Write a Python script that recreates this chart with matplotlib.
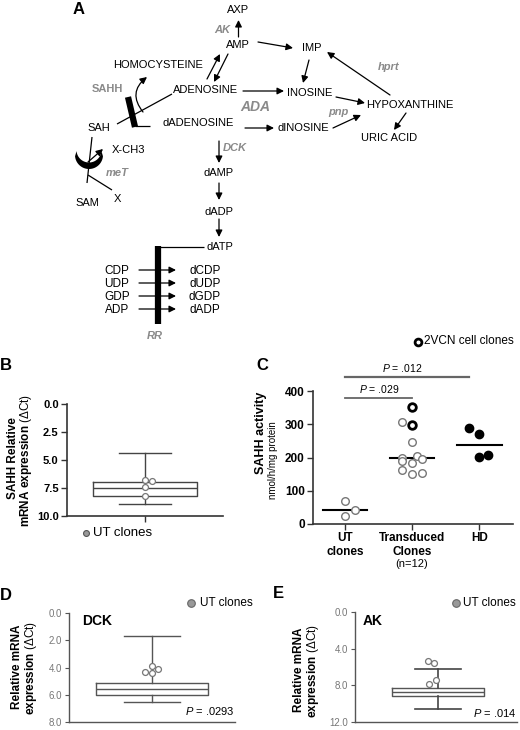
import numpy as np
import matplotlib
matplotlib.use("Agg")
import matplotlib.pyplot as plt
from matplotlib.patches import FancyArrowPatch, Polygon

plt.rcParams['font.family'] = ['Liberation Sans', 'DejaVu Sans']
plt.rcParams['mathtext.fontset'] = 'custom'
plt.rcParams['mathtext.rm'] = 'Liberation Sans'
plt.rcParams['mathtext.it'] = 'Liberation Sans:italic'
plt.rcParams['mathtext.bf'] = 'Liberation Sans:bold'

# ---------------- data ----------------
# Panel B: SAHH relative mRNA expression (dCt), UT clones
b_box = dict(whislo=4.35, q1=6.93, med=7.5, q3=8.17, whishi=8.9)
b_pts = [6.75, 6.9, 7.42, 8.25]
b_ticks = [0.0, 2.5, 5.0, 7.5, 10.0]

# Panel C: SAHH activity (nmol/h/mg protein)
c_groups = ['UT\nclones', 'Transduced\nClones', 'HD']
c_ut = [69, 43, 25]
c_td = [353, 308, 298, 248, 200, 206, 195, 190, 184, 162, 149, 154]
c_td_2vcn = [True, False, True, False, False, False, False, False, False, False, False, False]
c_hd = [289, 271, 201, 208]
c_medians = [42, 197, 239]
c_ticks = [0, 100, 200, 300, 400]
c_pvals = ['.029', '.012']

# Panel D: DCK
d_box = dict(whislo=1.69, q1=5.16, med=5.6, q3=6.0, whishi=6.5)
d_pts = [4.34, 3.86, 4.1, 4.39]
d_ticks = [0.0, 2.0, 4.0, 6.0, 8.0]

# Panel E: AK
e_box = dict(whislo=6.23, q1=8.29, med=8.78, q3=9.2, whishi=10.6)
e_pts = [5.35, 5.6, 7.8, 7.38]
e_ticks = [0.0, 4.0, 8.0, 12.0]

W, H = 520, 730
fig = plt.figure(figsize=(W / 100, H / 100), dpi=100)
fig.patch.set_facecolor('white')

def px_axes(left, top, right, bottom):
    return fig.add_axes([left / W, 1 - bottom / H, (right - left) / W, (bottom - top) / H])

# overlay for diagram / labels (pixel coordinates)
ov = fig.add_axes([0, 0, 1, 1], zorder=5)
ov.set_xlim(0, W)
ov.set_ylim(H, 0)
ov.axis('off')
ov.patch.set_alpha(0)

GRAY = '#8a8a8a'
FS = 8

def t(x, y, s, **kw):
    kw.setdefault('fontsize', FS)
    kw.setdefault('ha', 'center')
    kw.setdefault('va', 'center')
    ov.text(x, y, s, **kw)

def arr(x1, y1, x2, y2, lw=0.9):
    ov.add_patch(FancyArrowPatch((x1, y1), (x2, y2), arrowstyle='-|>,head_length=4,head_width=2',
                                 mutation_scale=1, lw=lw, color='black', shrinkA=0, shrinkB=0))

def ln(xs, ys, lw=0.9, color='black'):
    ov.plot(xs, ys, color=color, lw=lw, solid_capstyle='butt')

# ---------------- Panel A diagram ----------------
t(73, 10, 'A', fontsize=12, fontweight='bold', ha='left')
t(238, 10, 'AXP')
t(222, 30, 'AK', color=GRAY, fontweight='bold', style='italic')
arr(238.5, 37, 238.5, 20)
t(238, 45, 'AMP')
t(312, 48, 'IMP')
arr(258, 42, 293, 48)
t(158, 65, 'HOMOCYSTEINE')
arr(207, 79, 220, 54)
arr(228, 54, 214, 82)
t(107, 89, 'SAHH', color=GRAY, fontweight='bold')
t(206, 90, 'ADENOSINE')
t(255, 107, 'ADA', color=GRAY, fontweight='bold', style='italic', fontsize=10)
t(310, 93, 'INOSINE')
arr(243, 91, 284, 91)
arr(309, 60, 303, 83)
t(410, 105, 'HYPOXANTHINE')
arr(336, 97, 365, 103)
t(389, 67, 'hprt', color=GRAY, style='italic', fontweight='bold')
arr(390, 95, 327, 52)
t(338, 112, 'pnp', color=GRAY, style='italic', fontweight='bold')
t(198, 123, 'dADENOSINE')
t(303, 128, 'dINOSINE')
arr(245, 128, 274, 128)
arr(333, 128, 361, 115)
t(389, 138, 'URIC ACID')
arr(406, 113, 394, 130)

# SAHH block
t(99, 128, 'SAH')
ln([117, 172], [124, 94])
ln([128, 135], [97, 127], lw=4.5)
ln([135, 150], [126, 126])
ov.add_patch(FancyArrowPatch((143, 112), (147, 77), connectionstyle='arc3,rad=-0.5',
                             arrowstyle='-|>,head_length=4,head_width=2', mutation_scale=1,
                             lw=0.9, color='black', shrinkA=0, shrinkB=0))
# methyltransferase
t(128, 150, 'X-CH3')
arr(88, 162, 103, 149)
ln([92, 87], [137, 183])
th = np.linspace(np.deg2rad(5), np.deg2rad(175), 40)
outer = np.column_stack([89 + 14 * np.cos(th), 155 + 14 * np.sin(th)])
inner = np.column_stack([89 + 12.5 * np.cos(th[::-1]), 150 + 12.5 * np.sin(th[::-1])])
ov.add_patch(Polygon(np.vstack([outer, inner]), closed=True, color='black', lw=0))
t(117, 173, 'meT', color=GRAY, style='italic', fontweight='bold')
ln([88, 112], [175, 190])
t(117, 199, 'X')
t(87, 203, 'SAM')

# DCK branch
t(235, 148, 'DCK', color=GRAY, style='italic', fontweight='bold')
arr(219, 141, 219, 163)
t(219, 173, 'dAMP')
arr(219, 183, 219, 200)
t(219, 212, 'dADP')
arr(219, 219, 219, 237)
t(220, 247, 'dATP')
ln([157, 204], [247, 247])
ln([158, 158], [246, 324], lw=4.5)
for y, a, b in zip([271, 284, 297, 310], ['CDP', 'UDP', 'GDP', 'ADP'],
                   ['dCDP', 'dUDP', 'dGDP', 'dADP']):
    t(117, y, a, fontsize=8.5)
    arr(139, y - 1, 176, y - 1)
    t(205, y, b, fontsize=8.5)
t(155, 336, 'RR', color=GRAY, style='italic', fontweight='bold')

# ---------------- Panel B ----------------
t(0, 366, 'B', fontsize=12, fontweight='bold', ha='left')
axB = px_axes(67, 404, 223, 516)
stB = dict(b_box); stB['fliers'] = []
axB.bxp([stB], positions=[0], widths=[0.67], showfliers=False,
        boxprops=dict(color='#444', lw=1), medianprops=dict(color='#444', lw=1),
        whiskerprops=dict(color='#444', lw=1), capprops=dict(color='#444', lw=1))
axB.scatter(np.array([0, 0.045, 0, 0]), b_pts, s=18, facecolor='white', edgecolor='#777', lw=0.9, zorder=3)
axB.set_ylim(10, 0)
axB.set_xlim(-0.5, 0.5)
axB.set_yticks(b_ticks)
axB.set_yticklabels([f'{v:.1f}' for v in b_ticks], fontweight='bold', fontsize=8)
axB.set_xticks([0])
axB.set_xticklabels([''])
for s in ['top', 'right']:
    axB.spines[s].set_visible(False)
for s in ['left', 'bottom']:
    axB.spines[s].set_color('#333'); axB.spines[s].set_linewidth(1.2)
axB.tick_params(length=4, width=1, color='#333', pad=2)
t(13, 458, 'SAHH Relative', rotation=90, fontsize=8.5, fontweight='bold')
t(26, 460, r'$\mathbf{mRNA\ expression}$ (ΔCt)', rotation=90, fontsize=8.5)
ov.scatter([86], [533], s=18, facecolor='#999', edgecolor='#555', lw=0.8)
t(93, 533, 'UT clones', ha='left', fontsize=9.5)

# ---------------- Panel C ----------------
t(256, 366, 'C', fontsize=12, fontweight='bold', ha='left')
axC = px_axes(313, 391, 513, 524)
ut_x = np.array([0, 0.15, 0])
td_x = 1 + np.array([0, -0.15, 0, 0, -0.15, 0.07, 0.145, -0.15, 0, -0.15, 0, 0.145])
hd_x = 2 + np.array([-0.16, -0.01, -0.01, 0.13])
axC.scatter(ut_x, c_ut, s=30, facecolor='white', edgecolor='#777', lw=1, zorder=3)
flags = np.array(c_td_2vcn)
tdv = np.array(c_td)
axC.scatter(td_x[~flags], tdv[~flags], s=30, facecolor='white', edgecolor='#777', lw=1, zorder=3)
axC.scatter(td_x[flags], tdv[flags], s=30, facecolor='white', edgecolor='black', lw=2, zorder=3)
axC.scatter(hd_x, c_hd, s=36, facecolor='black', edgecolor='black', zorder=3)
for i, m in enumerate(c_medians):
    axC.plot([i - 0.33, i + 0.33], [m, m], color='black', lw=1.5, zorder=2)
axC.set_xlim(-0.48, 2.5)
axC.set_ylim(0, 400)
axC.set_yticks(c_ticks)
axC.set_yticklabels([str(v) for v in c_ticks], fontweight='bold', fontsize=8.5)
axC.set_xticks([0, 1, 2])
axC.set_xticklabels(c_groups, fontweight='bold', fontsize=8.5)
for s in ['top', 'right']:
    axC.spines[s].set_visible(False)
for s in ['left', 'bottom']:
    axC.spines[s].set_color('#333'); axC.spines[s].set_linewidth(1.2)
axC.tick_params(length=4, width=1, color='#333', pad=2)
t(412, 564, '(n=12)', fontsize=8)
# P-value bars
axC.plot([0, 1.0], [379, 379], color='#666', lw=1.3, clip_on=False)
axC.plot([0, 1.84], [442, 442], color='#666', lw=1.6, clip_on=False)
axC.text(0.5, 405, r'$\it{P}$ = ' + c_pvals[0], ha='center', va='center', fontsize=7.5, clip_on=False)
axC.text(0.85, 470, r'$\it{P}$ = ' + c_pvals[1], ha='center', va='center', fontsize=7.5, clip_on=False)
t(261, 433, 'SAHH activity', rotation=90, fontsize=9, fontweight='bold')
t(273, 460, 'nmol/h/mg protein', rotation=90, fontsize=7)
ov.scatter([418], [342], s=24, facecolor='white', edgecolor='black', lw=2)
t(424, 341, '2VCN cell clones', ha='left', fontsize=8.5)

# ---------------- Panel D ----------------
t(0, 596, 'D', fontsize=12, fontweight='bold', ha='left')
axD = px_axes(69, 613, 235, 722)
stD = dict(d_box); stD['fliers'] = []
axD.bxp([stD], positions=[0], widths=[0.67], showfliers=False,
        boxprops=dict(color='#555', lw=1), medianprops=dict(color='#555', lw=1),
        whiskerprops=dict(color='#555', lw=1), capprops=dict(color='#555', lw=1))
axD.scatter(np.array([-0.042, 0, 0.036, 0]), d_pts, s=18, facecolor='white', edgecolor='#777', lw=0.9, zorder=3)
axD.set_ylim(8, 0)
axD.set_xlim(-0.5, 0.5)
axD.set_yticks(d_ticks)
axD.set_yticklabels([f'{v:.1f}' for v in d_ticks], fontsize=7, color='#777')
axD.set_xticks([])
for s in ['top', 'right']:
    axD.spines[s].set_visible(False)
for s in ['left', 'bottom']:
    axD.spines[s].set_color('#555'); axD.spines[s].set_linewidth(1.0)
axD.tick_params(length=3, width=0.8, color='#555', pad=2)
axD.text(0.08, 0.93, 'DCK', transform=axD.transAxes, fontsize=10, fontweight='bold', ha='left', va='center')
axD.text(0.7, 0.1, r'$\it{P}$ = .0293', transform=axD.transAxes, fontsize=8, ha='left', va='center')
t(17, 667, 'Relative mRNA', rotation=90, fontsize=8.5, fontweight='bold')
t(31, 668, r'$\mathbf{expression}$ (ΔCt)', rotation=90, fontsize=8.5)
ov.scatter([191], [603], s=30, facecolor='#999', edgecolor='#666', lw=0.8)
t(200, 603, 'UT clones', ha='left', fontsize=8.5)

# ---------------- Panel E ----------------
t(273, 594, 'E', fontsize=12, fontweight='bold', ha='left')
axE = px_axes(355, 612, 517, 722)
stE = dict(e_box); stE['fliers'] = []
axE.bxp([stE], positions=[0], widths=[0.57], showfliers=False,
        boxprops=dict(color='#555', lw=1), medianprops=dict(color='#555', lw=1),
        whiskerprops=dict(color='#444', lw=1.2), capprops=dict(color='#444', lw=1.2))
axE.scatter(np.array([-0.062, -0.025, -0.056, -0.012]), e_pts, s=18, facecolor='white', edgecolor='#777', lw=0.9, zorder=3)
axE.set_ylim(12, 0)
axE.set_xlim(-0.512, 0.488)
axE.set_yticks(e_ticks)
axE.set_yticklabels([f'{v:.1f}' for v in e_ticks], fontsize=7, color='#777')
axE.set_xticks([])
for s in ['top', 'right']:
    axE.spines[s].set_visible(False)
for s in ['left', 'bottom']:
    axE.spines[s].set_color('#555'); axE.spines[s].set_linewidth(1.0)
axE.tick_params(length=3, width=0.8, color='#555', pad=2)
axE.text(0.045, 0.915, 'AK', transform=axE.transAxes, fontsize=10, fontweight='bold', ha='left', va='center')
axE.text(0.73, 0.08, r'$\it{P}$ = .014', transform=axE.transAxes, fontsize=8, ha='left', va='center')
t(299, 670, 'Relative mRNA', rotation=90, fontsize=8.5, fontweight='bold')
t(313, 671, r'$\mathbf{expression}$ (ΔCt)', rotation=90, fontsize=8.5)
ov.scatter([456], [603], s=30, facecolor='#999', edgecolor='#666', lw=0.8)
t(463, 603, 'UT clones', ha='left', fontsize=8.5)

fig.savefig('out.png', dpi=100, facecolor='white')
